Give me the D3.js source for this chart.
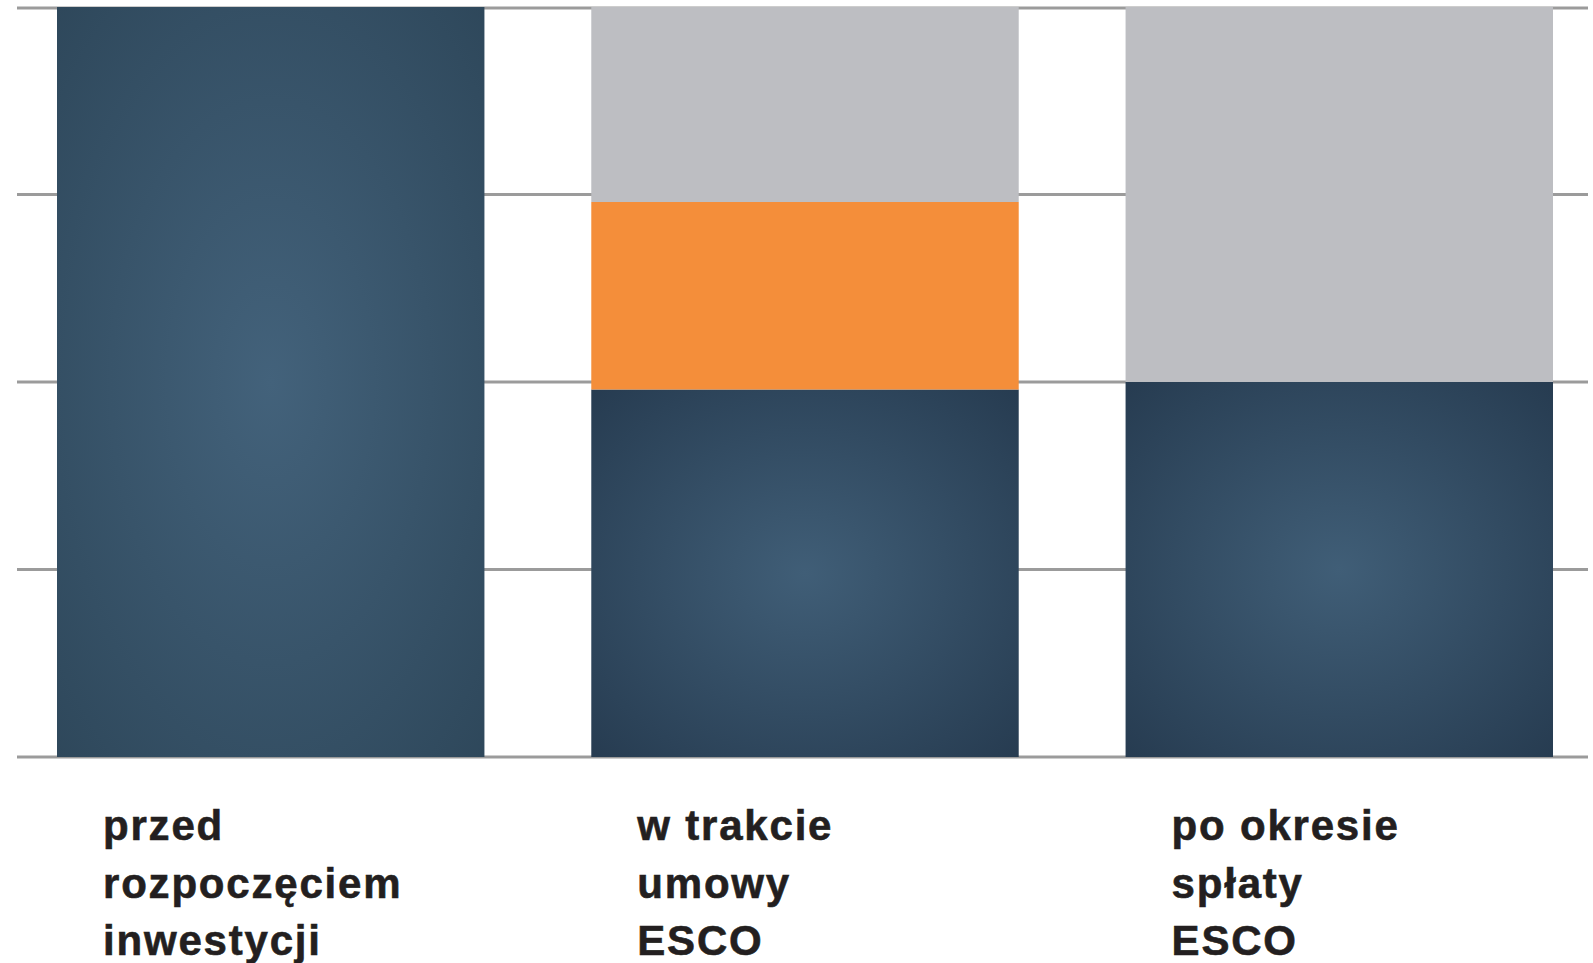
<!DOCTYPE html>
<html>
<head>
<meta charset="utf-8">
<script src="https://cdn.jsdelivr.net/npm/d3@7"></script>
<style>
  body { margin: 0; background: #fff; }
  svg { display: block; }
</style>
</head>
<body>
<div id="chart"></div>
<script>
// categories (label lines) and stacked values in percent of the full bar
const categories = ['przed', 'w trakcie', 'po okresie'];
const labelLines = [
    ['przed', 'rozpoczęciem', 'inwestycji'],
    ['w trakcie', 'umowy', 'ESCO'],
    ['po okresie', 'spłaty', 'ESCO']
];
const energyCost = [100, 49, 50];   // dark blue part
const escoRate = [0, 25, 0];        // orange part
const savings = [0, 26, 50];        // grey part
const gridTicks = [0, 25, 50, 75, 100];

const width = 1593, height = 963;

const svg = d3.select('#chart')
    .append('svg')
    .attr('width', width)
    .attr('height', height);

const x = d3.scaleBand()
    .domain(categories)
    .range([57, 1553])
    .paddingInner(0.2)
    .paddingOuter(0);

const y = d3.scaleLinear()
    .domain([0, 100])
    .range([757, 7]);

// radial gradients for the dark parts
const defs = svg.append('defs');
function radial(id, inner, outer, r) {
    const g = defs.append('radialGradient')
        .attr('id', id)
        .attr('cx', '50%').attr('cy', '50%').attr('r', r);
    g.append('stop').attr('offset', '0%').attr('stop-color', inner);
    g.append('stop').attr('offset', '100%').attr('stop-color', outer);
}
radial('darkSoft', '#43627b', '#2d4659', '75%');
radial('darkDeep', '#405e77', '#263b50', '72%');

// grid lines behind the bars
svg.append('g')
    .selectAll('line')
    .data(gridTicks)
    .enter()
    .append('line')
    .attr('x1', 17)
    .attr('x2', 1588)
    .attr('y1', d => y(d) + (d === 100 ? 1 : 0))
    .attr('y2', d => y(d) + (d === 100 ? 1 : 0))
    .attr('stroke', '#9b9b9b')
    .attr('stroke-width', 3);

// stack the series
const rows = categories.map((c, i) => ({
    cat: c, energy: energyCost[i], esco: escoRate[i], save: savings[i]
}));
const stack = d3.stack().keys(['energy', 'esco', 'save']);
const series = stack(rows);

const fills = {
    energy: (d, i) => i === 0 ? 'url(#darkSoft)' : 'url(#darkDeep)',
    esco: () => '#f48e3a',
    save: () => '#bdbec2'
};

svg.append('g')
    .selectAll('g')
    .data(series)
    .enter()
    .append('g')
    .each(function(s) {
        d3.select(this).selectAll('rect')
            .data(s.filter(d => d[1] > d[0]))
            .enter()
            .append('rect')
            .attr('x', d => x(d.data.cat))
            .attr('width', x.bandwidth())
            .attr('y', d => y(d[1]))
            .attr('height', d => y(d[0]) - y(d[1]))
            .attr('fill', d => fills[s.key](d, categories.indexOf(d.data.cat)));
    });

// category labels
const labels = svg.append('g')
    .selectAll('text')
    .data(categories)
    .enter()
    .append('text')
    .attr('x', d => x(d) + 46)
    .attr('y', 840)
    .attr('font-family', '"Liberation Sans", Arial, sans-serif')
    .attr('font-weight', 'bold')
    .attr('font-size', '42px')
    .attr('letter-spacing', '1.8px')
    .attr('fill', '#231f20')
    .attr('stroke', '#231f20')
    .attr('stroke-width', 0.6);

labels.selectAll('tspan')
    .data((d, i) => labelLines[i])
    .enter()
    .append('tspan')
    .attr('x', function() { return this.parentNode.getAttribute('x'); })
    .attr('dy', (d, i) => i === 0 ? 0 : 57.5)
    .text(d => d);
</script>
</body>
</html>
